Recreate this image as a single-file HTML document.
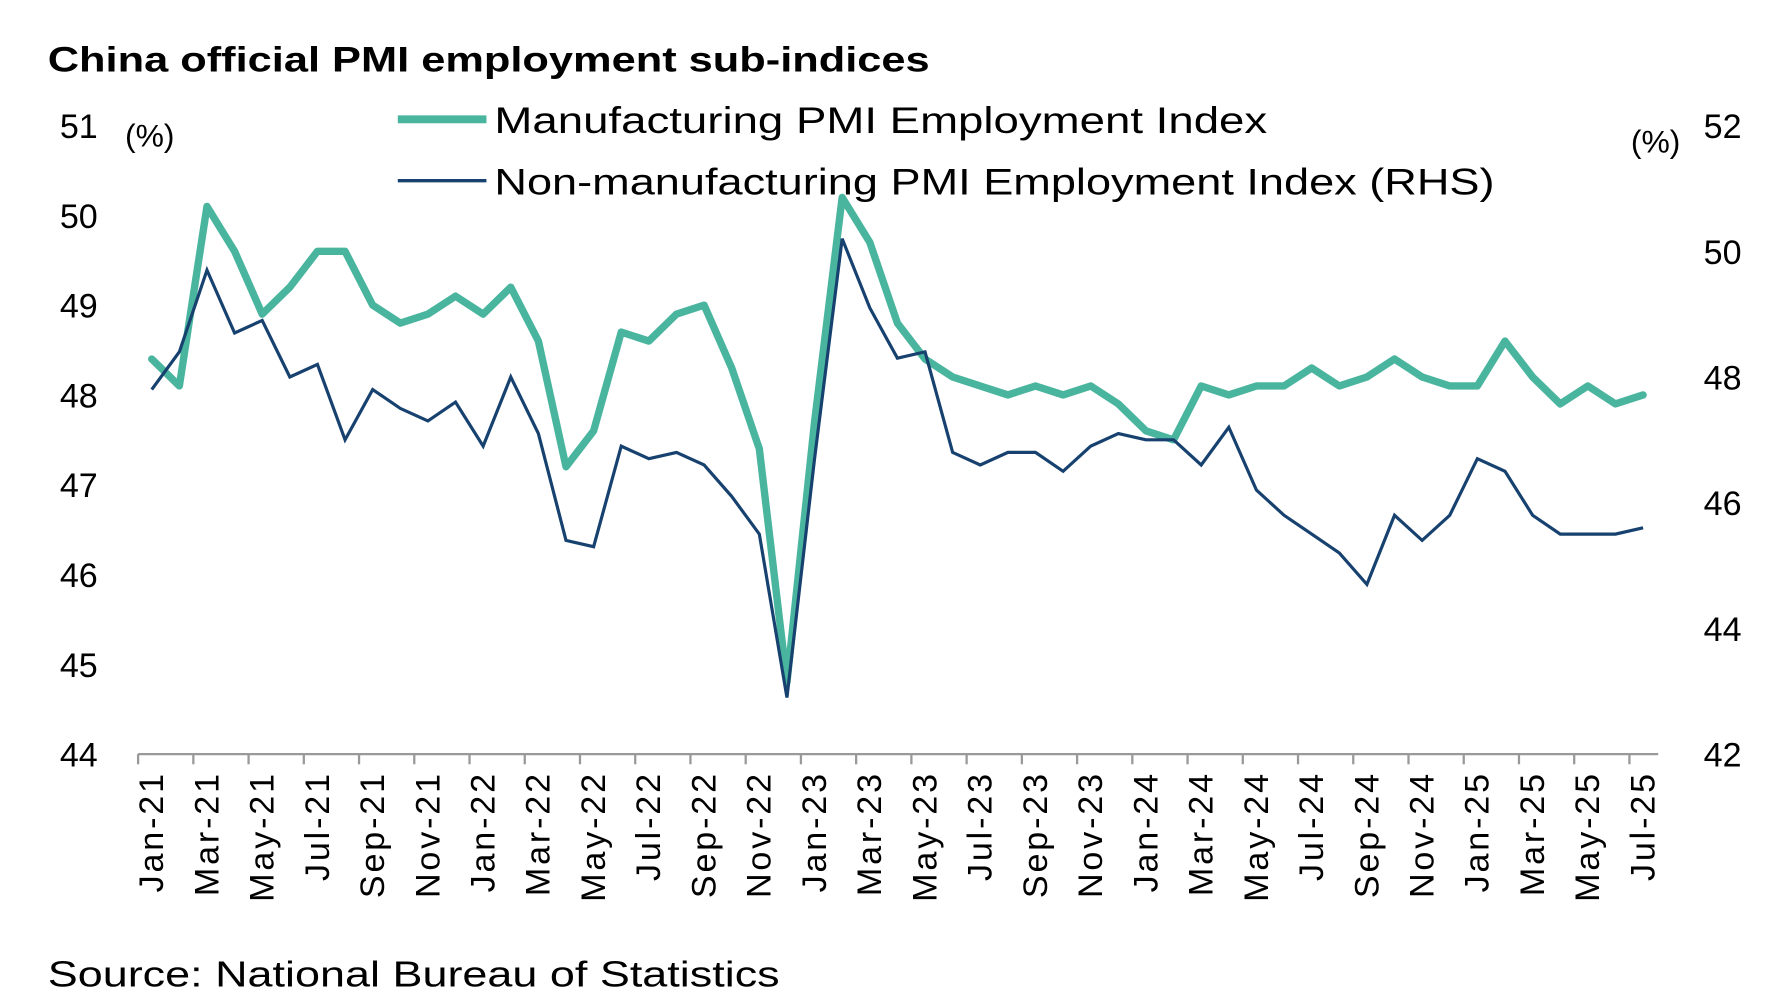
<!DOCTYPE html>
<html><head><meta charset="utf-8"><style>
html,body{margin:0;padding:0;background:#fff;}
svg{display:block;font-family:"Liberation Sans",sans-serif;}
</style></head><body>
<svg width="1773" height="999" viewBox="0 0 1560 879" xmlns="http://www.w3.org/2000/svg">
<text x="42" y="63" font-size="31" font-weight="bold" textLength="776" lengthAdjust="spacingAndGlyphs">China official PMI employment sub-indices</text>
<text x="110" y="129" font-size="28">(%)</text>
<text x="1435" y="134" font-size="28">(%)</text>
<g>
<line x1="350" y1="105" x2="428" y2="105" stroke="#4AB59E" stroke-width="7"/>
<text x="435" y="117" font-size="33" textLength="680" lengthAdjust="spacingAndGlyphs">Manufacturing PMI Employment Index</text>
<line x1="350" y1="159" x2="428" y2="159" stroke="#17416F" stroke-width="3"/>
<text x="435" y="171" font-size="33" textLength="880" lengthAdjust="spacingAndGlyphs">Non-manufacturing PMI Employment Index (RHS)</text>
</g>
<g id="axes"></g>
<g id="series"></g>
<text x="42" y="868" font-size="32" textLength="644" lengthAdjust="spacingAndGlyphs">Source: National Bureau of Statistics</text>
</svg>
<script>
const months = ["Jan-21","Feb-21","Mar-21","Apr-21","May-21","Jun-21","Jul-21","Aug-21","Sep-21","Oct-21","Nov-21","Dec-21","Jan-22","Feb-22","Mar-22","Apr-22","May-22","Jun-22","Jul-22","Aug-22","Sep-22","Oct-22","Nov-22","Dec-22","Jan-23","Feb-23","Mar-23","Apr-23","May-23","Jun-23","Jul-23","Aug-23","Sep-23","Oct-23","Nov-23","Dec-23","Jan-24","Feb-24","Mar-24","Apr-24","May-24","Jun-24","Jul-24","Aug-24","Sep-24","Oct-24","Nov-24","Dec-24","Jan-25","Feb-25","Mar-25","Apr-25","May-25","Jun-25","Jul-25"];
const manufacturing = [48.4,48.1,50.1,49.6,48.9,49.2,49.6,49.6,49.0,48.8,48.9,49.1,48.9,49.2,48.6,47.2,47.6,48.7,48.6,48.9,49.0,48.3,47.4,44.8,47.7,50.2,49.7,48.8,48.4,48.2,48.1,48.0,48.1,48.0,48.1,47.9,47.6,47.5,48.1,48.0,48.1,48.1,48.3,48.1,48.2,48.4,48.2,48.1,48.1,48.6,48.2,47.9,48.1,47.9,48.0];
const nonManufacturing = [47.8,48.4,49.7,48.7,48.9,48.0,48.2,47.0,47.8,47.5,47.3,47.6,46.9,48.0,47.1,45.4,45.3,46.9,46.7,46.8,46.6,46.1,45.5,42.9,46.7,50.2,49.1,48.3,48.4,46.8,46.6,46.8,46.8,46.5,46.9,47.1,47.0,47.0,46.6,47.2,46.2,45.8,45.5,45.2,44.7,45.8,45.4,45.8,46.7,46.5,45.8,45.5,45.5,45.5,45.6];
const leftTicks = [44,45,46,47,48,49,50,51];
const rightTicks = [42,44,46,48,50,52];
const NS="http://www.w3.org/2000/svg";
const x0=121.5, dx=24.3, yBot=663.5, yTop=110.5, off=12;
const xs=i=>x0+i*dx;
const yL=v=>yBot-(v-44)/(51-44)*(yBot-yTop);
const yR=v=>yBot-(v-42)/(52-42)*(yBot-yTop);
function mk(tag,attrs,parent){const e=document.createElementNS(NS,tag);for(const k in attrs)e.setAttribute(k,attrs[k]);parent.appendChild(e);return e;}
const axes=document.getElementById('axes'), series=document.getElementById('series');
const ax=mk('line',{x1:x0,y1:yBot,x2:xs(months.length)+1,y2:yBot,stroke:'#999','stroke-width':2},axes);


months.forEach((m,i)=>{
 if(i%2) return;
 const t=mk('line',{x1:xs(i),y1:yBot,x2:xs(i),y2:yBot+9,stroke:'#999','stroke-width':2},axes);
 
 
 const lb=mk('text',{x:0,y:0,'font-size':30,'letter-spacing':2.5,'text-anchor':'end',transform:`translate(${xs(i)+off+10},${yBot+15}) rotate(-90)`},axes);
 lb.textContent=m;
 
 
});
leftTicks.forEach(v=>{
 const t=mk('text',{x:86,y:yL(v)+11,'font-size':30,'text-anchor':'end'},axes);
 t.textContent=v;
 
 
});
rightTicks.forEach(v=>{
 const t=mk('text',{x:1499,y:yR(v)+11,'font-size':30},axes);
 t.textContent=v;
 
 
});
const p1=mk('polyline',{points:manufacturing.map((v,i)=>(xs(i)+off)+','+yL(v)).join(' '),fill:'none',stroke:'#4AB59E','stroke-width':6.5,'stroke-linejoin':'round','stroke-linecap':'round'},series);


const p2=mk('polyline',{points:nonManufacturing.map((v,i)=>(xs(i)+off)+','+yR(v)).join(' '),fill:'none',stroke:'#17416F','stroke-width':2.8,'stroke-linejoin':'miter'},series);


</script>
</body></html>
